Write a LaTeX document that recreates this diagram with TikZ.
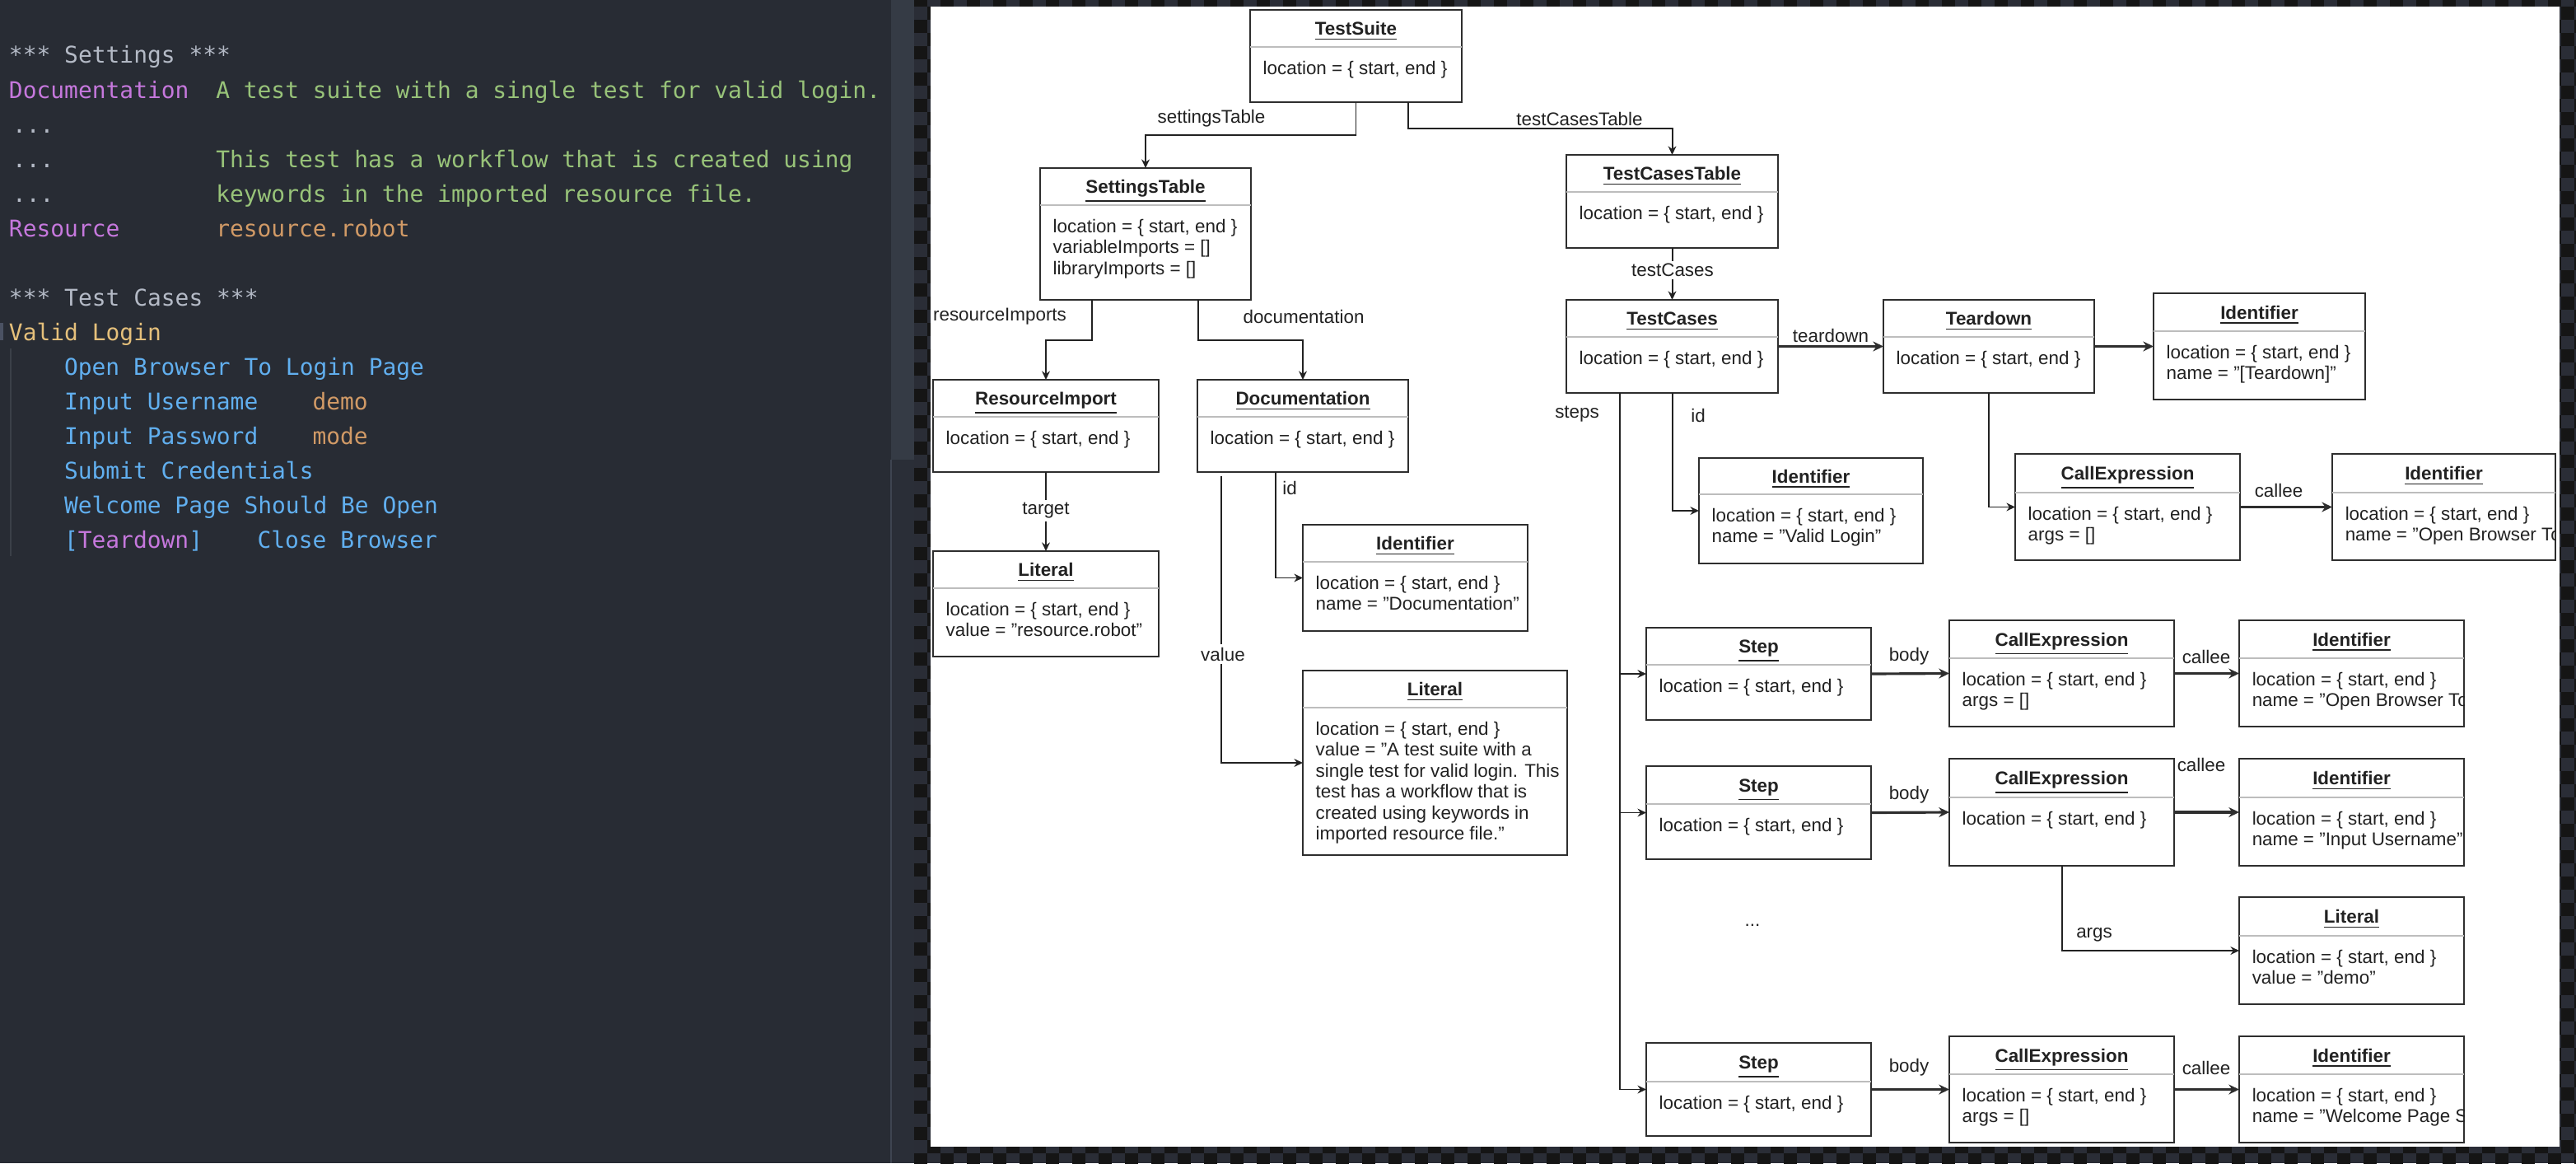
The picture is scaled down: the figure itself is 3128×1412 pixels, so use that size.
\documentclass[tikz,border=0pt]{standalone}
\usepackage{fontspec}
\setmainfont{Liberation Sans}
\newfontfamily\codefont{DejaVu Sans Mono}
\usetikzlibrary{arrows.meta}

% editor palette
\definecolor{editorbg}{HTML}{282C34}
\definecolor{stripbg}{HTML}{353B45}
\definecolor{stripbgb}{HTML}{2A2E37}
\definecolor{stripline}{HTML}{3E4451}
\definecolor{gutterbar}{HTML}{4B5263}
\definecolor{guide}{HTML}{3B4048}
\definecolor{cgray}{HTML}{B4BAC6}
\definecolor{cpurple}{HTML}{C678DD}
\definecolor{cgreen}{HTML}{98C379}
\definecolor{corange}{HTML}{D19A66}
\definecolor{cyellow}{HTML}{E5C07B}
\definecolor{cblue}{HTML}{61AFEF}
% canvas palette
\definecolor{chkdark}{HTML}{151515}
\definecolor{chklight}{HTML}{2A2D36}
\definecolor{inkc}{HTML}{222222}
\definecolor{framec}{HTML}{2E2E2E}
\definecolor{divc}{HTML}{BDBDBD}

\tikzset{
  codeline/.style={font=\codefont\fontsize{7.94pt}{9pt}\selectfont, anchor=base west, inner sep=0pt, outer sep=0pt},
  objframe/.style={draw=framec, line width=0.65pt, fill=white, inner sep=0pt, outer sep=0pt},
  divider/.style={draw=divc, line width=0.6pt},
  titletext/.style={font=\fontsize{6.37pt}{7.26pt}\selectfont\bfseries, text=inkc, anchor=base, inner sep=0pt},
  bodytext/.style={font=\fontsize{6.37pt}{7.26pt}\selectfont, text=inkc, anchor=base west, inner sep=0pt},
  lbl/.style={font=\fontsize{6.37pt}{7.26pt}\selectfont, text=inkc, inner sep=1pt},
  onlbl/.style={lbl, fill=white},
  bareline/.style={draw=inkc, line width=0.55pt},
  link/.style={bareline, -{Stealth[length=3pt,width=2.8pt]}},
  thicklink/.style={bareline, line width=0.9pt, draw=framec, -{Stealth[length=3.6pt,width=3.4pt]}}
}

% object box: name, left, top, right, bottom, divider y, title, body rows
\newcommand\objbox[8]{%
  \node[objframe, anchor=north west,
        minimum width={(#4-#2)*0.01cm}, minimum height={(#5-#3)*0.01cm}] (#1) at (#2,#3) {};
  \draw[divider] (#2,#6) -- (#4,#6);
  \node[titletext] (#1-title) at ({(#2+#4)/2},{(#3+#6)/2+8}) {\underline{#7}};
  \begin{scope}
    \clip (#2,#3) rectangle (#4,#5);
    \node[bodytext] (#1-body) at ({#2+15},{#6+33}) {\begin{tabular}[t]{@{}l@{}}#8\end{tabular}};
  \end{scope}
}
\newcommand\locrow{location = \{ start, end \}}

\begin{document}
\begin{tikzpicture}[x=0.01cm, y=-0.01cm]
\useasboundingbox (0,0) rectangle (3128,1412);

% ---------------- editor pane ----------------
\fill[editorbg] (0,0) rectangle (1082,1412);
\fill[stripbg] (1082,0) rectangle (1110,558);
\fill[stripbgb] (1082,558) rectangle (1110,1412);
\draw[stripline, line width=0.5pt] (1082,558) -- (1082,1412);
\fill[gutterbar] (0,392) rectangle (4,413);
\draw[guide, line width=0.57pt] (13,423) -- (13,675);

\node[codeline, text=cgray]   (c1)  at (11,77)  {*** Settings ***};
\node[codeline, text=cpurple] (c2a) at (11,119) {Documentation};
\node[codeline, text=cgreen]  (c2b) at ({11+16.75*15},119) {A test suite with a single test for valid login.};
\node[codeline, text=cgray]   (c3)  at (15,161) {...};
\node[codeline, text=cgray]   (c4a) at (15,203) {...};
\node[codeline, text=cgreen]  (c4b) at ({11+16.75*15},203) {This test has a workflow that is created using};
\node[codeline, text=cgray]   (c5a) at (15,245) {...};
\node[codeline, text=cgreen]  (c5b) at ({11+16.75*15},245) {keywords in the imported resource file.};
\node[codeline, text=cpurple] (c6a) at (11,287) {Resource};
\node[codeline, text=corange] (c6b) at ({11+16.75*15},287) {resource.robot};
\node[codeline, text=cgray]   (c8)  at (11,371) {*** Test Cases ***};
\node[codeline, text=cyellow] (c9)  at (11,413) {Valid Login};
\node[codeline, text=cblue]   (c10) at ({11+16.75*4},455) {Open Browser To Login Page};
\node[codeline, text=cblue]   (c11a) at ({11+16.75*4},497) {Input Username};
\node[codeline, text=corange] (c11b) at ({11+16.75*22},497) {demo};
\node[codeline, text=cblue]   (c12a) at ({11+16.75*4},539) {Input Password};
\node[codeline, text=corange] (c12b) at ({11+16.75*22},539) {mode};
\node[codeline, text=cblue]   (c13) at ({11+16.75*4},581) {Submit Credentials};
\node[codeline, text=cblue]   (c14) at ({11+16.75*4},623) {Welcome Page Should Be Open};
\node[codeline, text=cblue]   (c15a) at ({11+16.75*4},665) {[\textcolor{cpurple}{Teardown}]};
\node[codeline, text=cblue]   (c15b) at ({11+16.75*18},665) {Close Browser};

% ---------------- checkered canvas margin ----------------
\begin{scope}
  \fill[chklight] (1110,0) rectangle (3128,1412);
  \clip (1110,0) rectangle (3128,1412);
  \foreach \j in {0,...,88} {
    \foreach \i in {0,1,124,125,126} {
      \pgfmathtruncatemacro\chkp{mod(\i+\j,2)}
      \ifnum\chkp=0 \fill[chkdark] ({1110+16*\i},{-8+16*\j}) rectangle +(16,16); \fi
    }
  }
  \foreach \j in {0,87,88} {
    \foreach \i in {2,...,123} {
      \pgfmathtruncatemacro\chkp{mod(\i+\j,2)}
      \ifnum\chkp=0 \fill[chkdark] ({1110+16*\i},{-8+16*\j}) rectangle +(16,16); \fi
    }
  }
\end{scope}
\fill[white] (1130,8) rectangle (3108,1392);

% ---------------- object boxes ----------------
\objbox{TestSuite}{1518}{12}{1775}{124}{57}{TestSuite}{\locrow}
\objbox{SettingsTable}{1263}{204}{1519}{364}{249}{SettingsTable}{\locrow\\variableImports = []\\libraryImports = []}
\objbox{TestCasesTable}{1902}{188}{2159}{301}{233}{TestCasesTable}{\locrow}
\objbox{TestCases}{1902}{364}{2159}{477}{409}{TestCases}{\locrow}
\objbox{ResourceImport}{1133}{461}{1407}{573}{506}{ResourceImport}{\locrow}
\objbox{Documentation}{1454}{461}{1710}{573}{506}{Documentation}{\locrow}
\objbox{LiteralRes}{1133}{669}{1407}{797}{714}{Literal}{\locrow\\value = "resource.robot"}
\objbox{IdentDoc}{1582}{637}{1855}{766}{682}{Identifier}{\locrow\\name = "Documentation"}
\objbox{LiteralDoc}{1582}{814}{1903}{1038}{859}{Literal}{\locrow\\value = "A test suite with a\\single test for valid login. This\\test has a workflow that is\\created using keywords in\\imported resource file."}
\objbox{Teardown}{2287}{364}{2543}{477}{409}{Teardown}{\locrow}
\objbox{IdentTD}{2615}{356}{2872}{485}{402}{Identifier}{\locrow\\name = "[Teardown]"}
\objbox{IdentVL}{2063}{556}{2335}{684}{600}{Identifier}{\locrow\\name = "Valid Login"}
\objbox{CallTD}{2447}{551}{2720}{680}{598}{CallExpression}{\locrow\\args = []}
\objbox{IdentOB}{2832}{551}{3103}{680}{598}{Identifier}{\locrow\\name = "Open Browser To}
\objbox{Step1}{1999}{762}{2272}{874}{807}{Step}{\locrow}
\objbox{Call1}{2367}{753}{2640}{882}{799}{CallExpression}{\locrow\\args = []}
\objbox{Ident1}{2719}{753}{2992}{882}{799}{Identifier}{\locrow\\name = "Open Browser To}
\objbox{Step2}{1999}{930}{2272}{1043}{976}{Step}{\locrow}
\objbox{Call2}{2367}{921}{2640}{1051}{968}{CallExpression}{\locrow}
\objbox{Ident2}{2719}{921}{2992}{1051}{968}{Identifier}{\locrow\\name = "Input Username"}
\objbox{Lit2}{2719}{1089}{2992}{1219}{1136}{Literal}{\locrow\\value = "demo"}
\objbox{Step3}{1999}{1266}{2272}{1379}{1313}{Step}{\locrow}
\objbox{Call3}{2367}{1258}{2640}{1387}{1304}{CallExpression}{\locrow\\args = []}
\objbox{Ident3}{2719}{1258}{2992}{1387}{1304}{Identifier}{\locrow\\name = "Welcome Page S}

\node[lbl] (more) at (2128,1123) {...};

% ---------------- connectors ----------------
\coordinate (stBend) at (1647,164);
\draw[link] (TestSuite.south) |- (stBend) -| (SettingsTable.north);
\coordinate (tcBend) at (1710,156);
\draw[link] (tcBend |- TestSuite.south) -- (tcBend) -| (TestCasesTable.north);
\draw[link] (TestCasesTable.south) -- (TestCases.north);

\coordinate (riBend) at (1326,413);
\draw[link] (riBend |- SettingsTable.south) -- (riBend) -| (ResourceImport.north);
\coordinate (docBend) at (1455,413);
\draw[link] (docBend |- SettingsTable.south) -- (docBend) -| (Documentation.north);
\draw[link] (ResourceImport.south) -- (LiteralRes.north);

\coordinate (idDocX) at (1549,0);
\draw[link] (idDocX |- Documentation.south) |- (IdentDoc.west);
\coordinate (valTop) at (1483,578);
\draw[link] (valTop) |- (LiteralDoc.west);

\coordinate (stepsX) at (1967,0);
\draw[bareline] (stepsX |- TestCases.south) -- (stepsX |- Step3.west);
\draw[link] (stepsX |- Step1.west) -- (Step1.west);
\draw[link] (stepsX |- Step2.west) -- (Step2.west);
\draw[link] (stepsX |- Step3.west) -- (Step3.west);

\draw[link] (TestCases.south) |- (IdentVL.west);
\draw[thicklink] (TestCases.east) -- (Teardown.west);
\draw[thicklink] (Teardown.east) -- (IdentTD.west);
\draw[link] (Teardown.south) |- (CallTD.west);
\draw[thicklink] (CallTD.east) -- (IdentOB.west);

\draw[thicklink] (Step1.east) -- (Call1.west);
\draw[thicklink] (Call1.east) -- (Ident1.west);
\draw[thicklink] (Step2.east) -- (Call2.west);
\draw[thicklink] (Call2.east) -- (Ident2.west);
\draw[link] (Call2.south) |- (Lit2.west);
\draw[thicklink] (Step3.east) -- (Call3.west);
\draw[thicklink] (Call3.east) -- (Ident3.west);

% ---------------- connector labels ----------------
\node[lbl]   (lSettings)  at (1471,144) {settingsTable};
\node[lbl]   (lTCTable)   at (1918,144) {testCasesTable};
\node[onlbl] (lTestCases) at (2031,328) {testCases};
\node[lbl]   (lResImp)    at (1214,384) {resourceImports};
\node[lbl]   (lDoc)       at (1583,384) {documentation};
\node[onlbl] (lTarget)    at (1270,620) {target};
\node[lbl]   (lIdDoc)     at (1566,592) {id};
\node[onlbl] (lValue)     at (1485,794) {value};
\node[lbl]   (lSteps)     at (1915,503) {steps};
\node[lbl]   (lIdTC)      at (2062,504) {id};
\node[lbl]   (lTeardown)  at (2223,407) {teardown};
\node[lbl]   (lCalleeTD)  at (2767,595) {callee};
\node[lbl]   (lBody1)     at (2318,797) {body};
\node[lbl]   (lCallee1)   at (2679,797) {callee};
\node[lbl]   (lBody2)     at (2318,965) {body};
\node[lbl]   (lCallee2)   at (2673,928) {callee};
\node[lbl]   (lArgs)      at (2543,1135) {args};
\node[lbl]   (lBody3)     at (2318,1296) {body};
\node[lbl]   (lCallee3)   at (2679,1296) {callee};
\end{tikzpicture}
\end{document}
